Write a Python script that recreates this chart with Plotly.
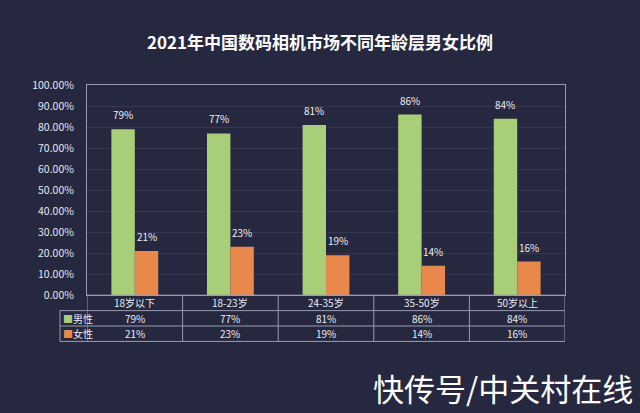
import plotly.graph_objects as go

categories = ["18岁以下", "18-23岁", "24-35岁", "35-50岁", "50岁以上"]
male = [0.79, 0.77, 0.81, 0.86, 0.84]
female = [0.21, 0.23, 0.19, 0.14, 0.16]
series_names = ["男性", "女性"]
y_ticks = [0, 0.1, 0.2, 0.3, 0.4, 0.5, 0.6, 0.7, 0.8, 0.9, 1.0]

W, H = 640, 413
BG = "#262840"
GREEN = "#a8cf78"
ORANGE = "#e8884a"
LINE = "#9a9ab4"
FONT = "Noto Sans CJK SC"

def px_x(x):
    return x / W

def px_y(y):
    return 1 - y / H

x_idx = list(range(len(categories)))

fig = go.Figure()
fig.add_bar(x=x_idx, y=male, name=series_names[0], marker_color=GREEN, marker_line_width=0)
fig.add_bar(x=x_idx, y=female, name=series_names[1], marker_color=ORANGE, marker_line_width=0)

annotations = []
off = 0.123
lab = dict(size=10, color="#ececf2", family=FONT)
for i, (m, f) in enumerate(zip(male, female)):
    annotations.append(dict(x=i - off, y=m, xref="x", yref="y", text=f"{m:.0%}", showarrow=False,
                            xanchor="center", yanchor="bottom", yshift=5, font=lab))
    annotations.append(dict(x=i + off, y=f, xref="x", yref="y", text=f"{f:.0%}", showarrow=False,
                            xanchor="center", yanchor="bottom", yshift=5, font=lab))

# table
rows_y = [298, 314, 330, 346]
shapes = []
shapes.append(dict(type="line", xref="paper", yref="paper", x0=px_x(87), x1=px_x(565),
                   y0=px_y(rows_y[0]), y1=px_y(rows_y[0]), line=dict(color=LINE, width=1)))
for ry in rows_y[1:]:
    shapes.append(dict(type="line", xref="paper", yref="paper", x0=px_x(60), x1=px_x(565),
                       y0=px_y(ry), y1=px_y(ry), line=dict(color=LINE, width=1)))
for b in range(len(categories) + 1):
    shapes.append(dict(type="line", xref="x", yref="paper", x0=b - 0.5, x1=b - 0.5,
                       y0=px_y(rows_y[0]), y1=px_y(rows_y[3]), line=dict(color=LINE, width=1)))
shapes.append(dict(type="line", xref="paper", yref="paper", x0=px_x(60), x1=px_x(60),
                   y0=px_y(rows_y[1]), y1=px_y(rows_y[3]), line=dict(color=LINE, width=1)))

tf = dict(size=10, color="#ececf2", family=FONT)
for i, c in enumerate(categories):
    for r, txt in enumerate([c, f"{male[i]:.0%}", f"{female[i]:.0%}"]):
        annotations.append(dict(x=i, y=px_y((rows_y[r] + rows_y[r + 1]) / 2), xref="x", yref="paper",
                                text=txt, showarrow=False, xanchor="center", yanchor="middle", font=tf))
for k, (nm, col) in enumerate(zip(series_names, [GREEN, ORANGE])):
    annotations.append(dict(x=px_x(61), y=px_y((rows_y[k + 1] + rows_y[k + 2]) / 2), xref="paper", yref="paper",
                            xanchor="left", yanchor="middle",
                            text=f"<span style='color:{col}'>■</span>{nm}", showarrow=False,
                            font=dict(size=10, color="#ececf2", family=FONT)))

annotations.append(dict(x=0.5, y=px_y(35), xref="paper", yref="paper", xanchor="center", yanchor="middle",
                        text="<b>2021年中国数码相机市场不同年龄层男女比例</b>", showarrow=False,
                        font=dict(size=17, color="#ffffff", family=FONT)))
annotations.append(dict(x=px_x(635), y=px_y(394), xref="paper", yref="paper", xanchor="right", yanchor="middle",
                        text="快传号/中关村在线", showarrow=False,
                        font=dict(size=31, color="#ffffff", family=FONT)))

fig.update_layout(
    width=W, height=H,
    margin=dict(l=0, r=0, t=0, b=0),
    paper_bgcolor=BG, plot_bgcolor=BG,
    showlegend=False,
    barmode="group", bargap=0.51, bargroupgap=0,
    xaxis=dict(domain=[px_x(87), px_x(565)], range=[-0.5, len(categories) - 0.5],
               showticklabels=False, showgrid=False, zeroline=False,
               showline=True, mirror=True, linecolor=LINE, linewidth=1, fixedrange=True),
    yaxis=dict(domain=[px_y(298), px_y(80)], range=[0, 1], tickvals=y_ticks, tickformat=".2%",
               showgrid=True, gridcolor="rgba(255,255,255,0.07)", gridwidth=1, zeroline=False,
               showline=True, mirror=True, linecolor=LINE, linewidth=1,
               ticks="", ticklabelstandoff=10,
               tickfont=dict(size=10.5, color="#e6e6ee", family=FONT)),
    shapes=shapes,
    annotations=annotations,
)

fig.write_html("out.html")
